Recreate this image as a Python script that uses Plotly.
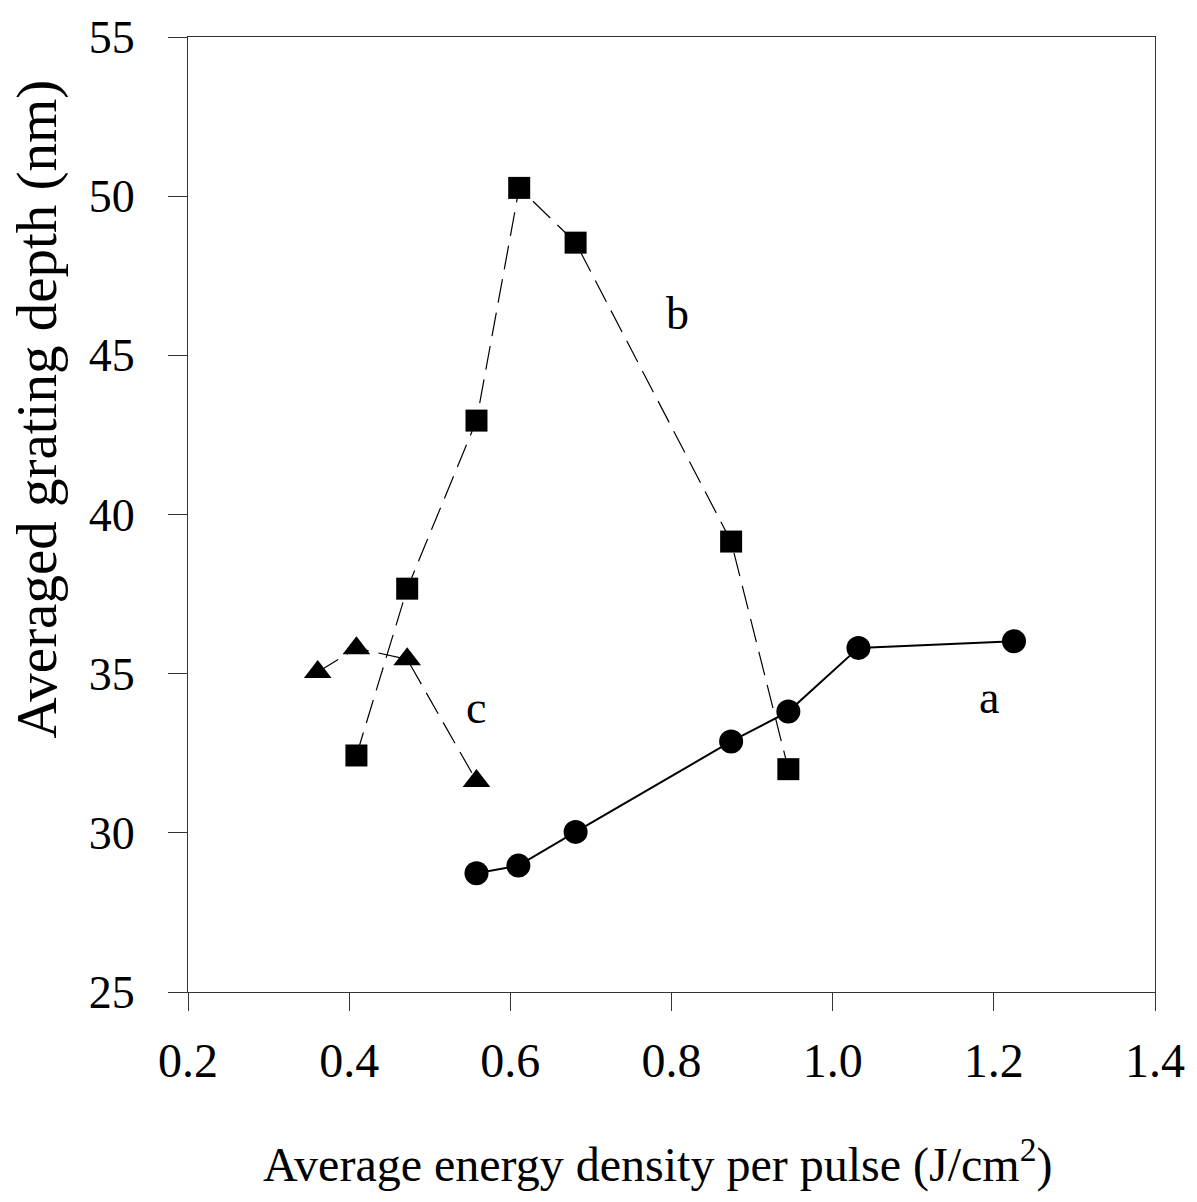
import plotly.graph_objects as go

# Series a (circles, solid)
a_x = [0.558, 0.610, 0.681, 0.874, 0.945, 1.032, 1.225]
a_y = [28.73, 28.97, 30.03, 32.87, 33.81, 35.81, 36.02]
# Series b (squares, dashed)
b_x = [0.409, 0.472, 0.558, 0.611, 0.681, 0.874, 0.945]
b_y = [32.43, 37.67, 42.95, 50.26, 48.54, 39.15, 32.00]
# Series c (triangles, dashed)
c_x = [0.361, 0.409, 0.472, 0.558]
c_y = [35.05, 35.80, 35.45, 31.63]

labels = ["a", "b", "c"]
label_x = [1.194, 0.8075, 0.558]
label_y = [34.25, 46.33, 33.94]

x_ticks = [0.2, 0.4, 0.6, 0.8, 1.0, 1.2, 1.4]
x_ticktext = ["0.2", "0.4", "0.6", "0.8", "1.0", "1.2", "1.4"]
y_ticks = [25, 30, 35, 40, 45, 50, 55]

FONT = "Liberation Serif, Times New Roman, serif"

fig = go.Figure()
fig.add_trace(go.Scatter(x=b_x, y=b_y, mode="lines+markers",
                         line=dict(color="black", width=1.2, dash="24px,10px"),
                         marker=dict(symbol="square", size=22, color="black"),
                         showlegend=False))
fig.add_trace(go.Scatter(x=c_x, y=c_y, mode="lines+markers",
                         line=dict(color="black", width=1.2, dash="24px,10px"),
                         marker=dict(symbol="triangle-up", size=24, color="black"),
                         showlegend=False))
fig.add_trace(go.Scatter(x=a_x, y=a_y, mode="lines+markers",
                         line=dict(color="black", width=2),
                         marker=dict(symbol="circle", size=24, color="black"),
                         showlegend=False))

for t, lx, ly in zip(labels, label_x, label_y):
    fig.add_annotation(x=lx, y=ly, text=t, showarrow=False,
                       font=dict(family=FONT, size=46, color="black"))

fig.add_annotation(xref="paper", yref="paper", x=0.4856, y=-0.177,
                   text="Average energy density per pulse (J/cm<sup>2</sup>)",
                   showarrow=False, xanchor="center", yanchor="middle",
                   font=dict(family=FONT, size=48, color="black"))
fig.add_annotation(xref="paper", yref="paper", x=-0.156, y=0.61,
                   text="Averaged grating depth (nm)", textangle=-90,
                   showarrow=False, xanchor="center", yanchor="middle",
                   font=dict(family=FONT, size=57, color="black"))

fig.update_layout(
    width=1197, height=1202,
    margin=dict(l=188, r=40, t=33, b=210),
    paper_bgcolor="white", plot_bgcolor="white",
    font=dict(family=FONT, color="black"),
    xaxis=dict(range=[0.2, 1.4], tickvals=x_ticks, ticktext=x_ticktext,
               showgrid=False, zeroline=False, showline=True, linecolor="#333",
               linewidth=1.2, mirror=True, ticks="outside", ticklen=18,
               tickwidth=1.2, tickcolor="#333", tickfont=dict(size=48),
               ticklabelstandoff=8),
    yaxis=dict(range=[25, 55], tickvals=y_ticks,
               showgrid=False, zeroline=False, showline=True, linecolor="#333",
               linewidth=1.2, mirror=True, ticks="outside", ticklen=19,
               tickwidth=1.2, tickcolor="#333", tickfont=dict(size=46),
               ticklabelstandoff=24),
)

fig.write_html("out.html")
